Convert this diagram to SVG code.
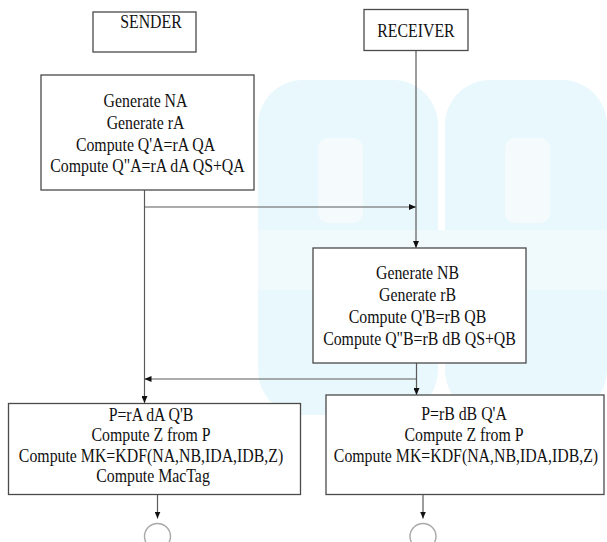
<svg xmlns="http://www.w3.org/2000/svg" width="607" height="542" viewBox="0 0 607 542">
<defs>
<style>
.box{fill:#ffffff;stroke:#4a4a4a;stroke-width:1.3}
.t{font-family:"Liberation Serif","Times New Roman",serif;font-size:18px;fill:#111111;text-anchor:middle}
.c{fill:none;stroke:#5a5a5a;stroke-width:1.2}
.end{fill:#ffffff;stroke:#a8a8a8;stroke-width:1.4}
.wm{fill:#e8f8fc}
</style>
<marker id="ah" markerUnits="userSpaceOnUse" markerWidth="7" markerHeight="6" refX="7" refY="3" orient="auto">
<path d="M0,0 L7,3 L0,6 z" fill="#111"/>
</marker>
</defs>
<rect width="607" height="542" fill="#ffffff"/>
<g id="watermark">
<rect class="wm" x="258" y="80" width="180" height="335" rx="45"/>
<rect class="wm" x="445" y="80" width="162" height="335" rx="45"/>
<rect x="318" y="138" width="45" height="85" rx="10" fill="#f5fbfd"/>
<rect x="505" y="138" width="45" height="85" rx="10" fill="#f5fbfd"/>
<rect x="258" y="230" width="349" height="60" fill="#f0fafd"/>
</g>
<g id="connectors">
<line class="c" x1="144.5" y1="190" x2="144.5" y2="403" marker-end="url(#ah)"/>
<line class="c" x1="144.5" y1="207" x2="416" y2="207" marker-end="url(#ah)"/>
<line class="c" x1="416" y1="51" x2="416" y2="248" marker-end="url(#ah)"/>
<line class="c" x1="416.5" y1="363" x2="416.5" y2="395" marker-end="url(#ah)"/>
<line class="c" x1="416.5" y1="379" x2="144.5" y2="379" marker-end="url(#ah)"/>
<line class="c" x1="157.5" y1="494.5" x2="157.5" y2="518.5" marker-end="url(#ah)"/>
<line class="c" x1="423" y1="494.5" x2="423" y2="518.5" marker-end="url(#ah)"/>
</g>
<g id="sender">
<rect class="box" x="93" y="12" width="103" height="40"/>
<text class="t" transform="translate(151 0) scale(0.88 1)" x="0" y="28">SENDER</text>
</g>
<g id="receiver">
<rect class="box" x="364" y="9.5" width="104" height="41"/>
<text class="t" transform="translate(416 0) scale(0.88 1)" x="0" y="37">RECEIVER</text>
</g>
<g id="sender-init">
<rect class="box" x="41" y="75" width="213" height="115"/>
<text class="t" transform="translate(147.5 0) scale(0.88 1)">
<tspan x="0" y="107.3">Generate NA</tspan>
<tspan x="0" y="129">Generate rA</tspan>
<tspan x="0" y="150.7">Compute Q'A=rA QA</tspan>
<tspan x="0" y="172.3">Compute Q"A=rA dA QS+QA</tspan>
</text>
</g>
<g id="receiver-init">
<rect class="box" x="313" y="248" width="213" height="115"/>
<text class="t" transform="translate(419.5 0) scale(0.88 1)">
<tspan x="0" y="279">Generate NB</tspan>
<tspan x="0" y="301">Generate rB</tspan>
<tspan x="0" y="323.3">Compute Q'B=rB QB</tspan>
<tspan x="0" y="345">Compute Q"B=rB dB QS+QB</tspan>
</text>
</g>
<g id="sender-key">
<rect class="box" x="8.5" y="403.5" width="292" height="91"/>
<text class="t" transform="translate(153 0) scale(0.88 1)">
<tspan x="0" y="421">P=rA dA Q'B</tspan>
<tspan x="0" y="441.5">Compute Z from P</tspan>
<tspan x="0" y="462">Compute MK=KDF(NA,NB,IDA,IDB,Z)</tspan>
<tspan x="0" y="482">Compute MacTag</tspan>
</text>
</g>
<g id="receiver-key">
<rect class="box" x="326" y="395" width="278" height="99.5"/>
<text class="t" transform="translate(466 0) scale(0.88 1)">
<tspan x="0" y="420">P=rB dB Q'A</tspan>
<tspan x="0" y="441">Compute Z from P</tspan>
<tspan x="0" y="462">Compute MK=KDF(NA,NB,IDA,IDB,Z)</tspan>
</text>
</g>
<g id="end-sender">
<circle class="end" cx="157.5" cy="536.5" r="13"/>
</g>
<g id="end-receiver">
<circle class="end" cx="423" cy="536.5" r="13"/>
</g>
</svg>
